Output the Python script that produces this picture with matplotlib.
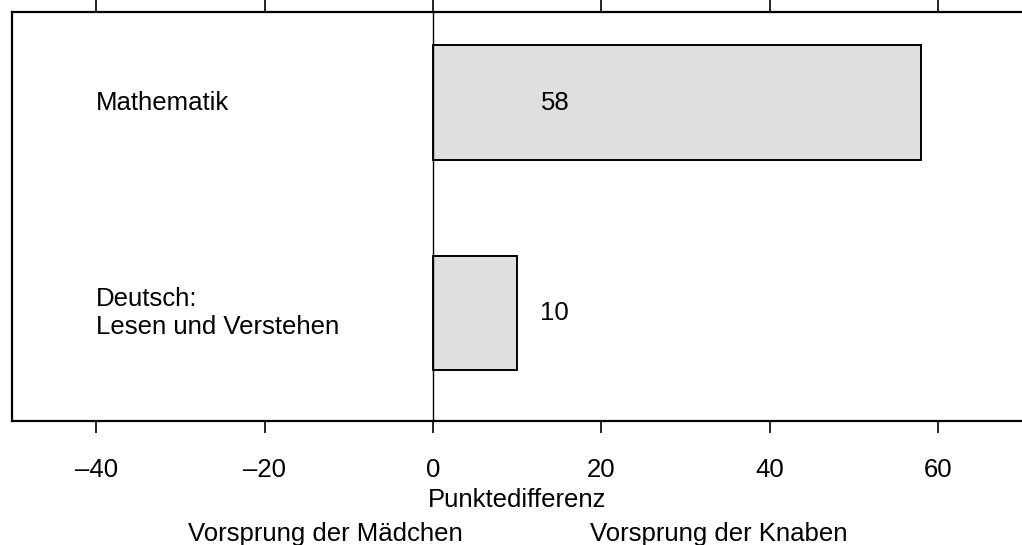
import matplotlib
matplotlib.use("Agg")
import matplotlib.pyplot as plt

# === Data ===
categories = ["Mathematik", "Deutsch:\nLesen und Verstehen"]
differences = [58, 10]
ypos = [1, 0]
xticks = [-40, -20, 0, 20, 40, 60]

# === Style ===
plt.rcParams['font.family'] = ['Liberation Sans', 'DejaVu Sans']
FS = 18.5
W, H = 1022, 545

fig = plt.figure(figsize=(W / 100, H / 100), dpi=100)
ax = fig.add_axes([12 / W, (H - 421) / H, 1010 / W, 409 / H])

ax.barh(ypos, differences, height=0.546, color='#dfdfdf',
        edgecolor='black', linewidth=1.4, zorder=2)
ax.axvline(0, color='black', linewidth=1.0, zorder=3)

for y, cat, d in zip(ypos, categories, differences):
    ax.text(-40, y, cat, ha='left', va='center', fontsize=FS,
            linespacing=1.25)
    ax.text(14.5, y, str(d), ha='center', va='center', fontsize=FS)

ax.set_xlim(-50, 70)
ax.set_ylim(-0.513, 1.43)
ax.set_yticks([])
ax.set_xticks(xticks)
ax.set_xticklabels([str(t).replace('-', '\u2013') for t in xticks])
ax.tick_params(axis='x', which='both', direction='out', length=8.6,
               width=1.2, labelsize=FS, pad=18, top=True, labeltop=False)
for s in ax.spines.values():
    s.set_linewidth(1.6)
ax.spines['right'].set_visible(False)

# === Axis titles ===
fig.text(517 / W, 1 - 500 / H, "Punktedifferenz", ha='center',
         va='center', fontsize=FS)
fig.text(325 / W, 1 - 534 / H, "Vorsprung der Mädchen", ha='center',
         va='center', fontsize=FS)
fig.text(719 / W, 1 - 534 / H, "Vorsprung der Knaben", ha='center',
         va='center', fontsize=FS)

fig.savefig("out.png", dpi=100)
